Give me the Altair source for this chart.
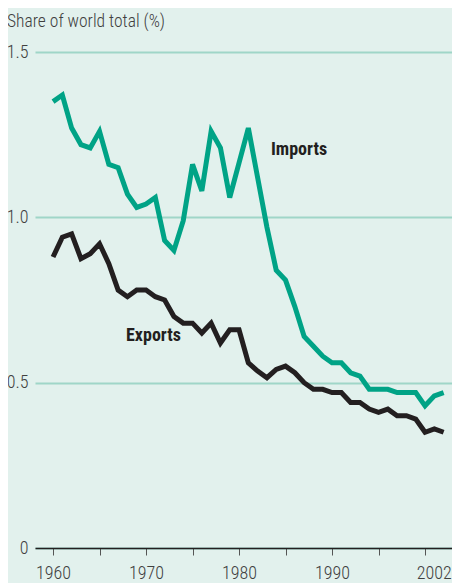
import altair as alt
import pandas as pd

years = list(range(1960, 2003))
imports = [1.35, 1.37, 1.27, 1.22, 1.21, 1.26, 1.16, 1.15, 1.07, 1.03,
           1.04, 1.06, 0.93, 0.90, 0.99, 1.16, 1.08, 1.26, 1.21, 1.06,
           1.165, 1.27, 1.12, 0.97, 0.84, 0.81, 0.73, 0.64, 0.61, 0.58,
           0.56, 0.56, 0.53, 0.52, 0.48, 0.48, 0.48, 0.47, 0.47, 0.47,
           0.43, 0.46, 0.47]
exports = [0.88, 0.94, 0.95, 0.875, 0.89, 0.92, 0.86, 0.78, 0.76, 0.78,
           0.78, 0.76, 0.75, 0.70, 0.68, 0.68, 0.65, 0.68, 0.62, 0.66,
           0.66, 0.56, 0.535, 0.515, 0.54, 0.55, 0.53, 0.50, 0.48, 0.48,
           0.47, 0.47, 0.44, 0.44, 0.42, 0.41, 0.42, 0.40, 0.40, 0.39,
           0.35, 0.36, 0.35]
series_names = ["Imports", "Exports"]
series_colors = ["#00a386", "#231f20"]
label_years = [1986.45, 1970.8]
label_values = [1.205, 0.642]
x_tick_values = [1960, 1965, 1970, 1975, 1980, 1985, 1990, 1995, 2000, 2002]
x_label_values = [1960, 1970, 1980, 1990, 2002]
y_tick_values = [0, 0.5, 1.0, 1.5]
title_text = "Share of world total (%)"

df = pd.DataFrame({
    "year": years * 2,
    "value": imports + exports,
    "series": [series_names[0]] * len(years) + [series_names[1]] * len(years),
})
labels = pd.DataFrame({"year": label_years, "value": label_values, "series": series_names})

FONT = "Roboto Condensed, Liberation Sans Narrow, Arial Narrow, DejaVu Sans Condensed, sans-serif"
TXT = "#404040"

label_list = ",".join(str(v) for v in x_label_values)
x_axis = alt.Axis(
    values=x_tick_values, format="d", grid=False, title=None,
    domain=True, domainColor="#231f20", domainWidth=1.5,
    ticks=True, tickSize=7, tickColor="#555555", tickWidth=1,
    tickOpacity={"condition": {"test": "datum.value === 2002", "value": 0}, "value": 1},
    labelOffset={"condition": {"test": "datum.value === 2002", "value": -10}, "value": 0},
    labelExpr=f"indexof([{label_list}], datum.value) >= 0 ? datum.label : ''",
    labelFont=FONT, labelFontSize=18, labelFontWeight=300, labelColor=TXT, labelPadding=9,
    labelFlush=False, labelOverlap=False, labelBound=False,
)
y_axis = alt.Axis(
    values=y_tick_values, title=None, domain=False, ticks=False,
    grid=True, gridColor="#9fd6c8", gridWidth=2,
    labelExpr="datum.value == 0 ? '0' : format(datum.value, '.1f')",
    labelFont=FONT, labelFontSize=18, labelFontWeight=300, labelColor=TXT, labelPadding=7,
)

x = alt.X("year:Q", scale=alt.Scale(domain=[1958.06, 2002.9], nice=False, zero=False), axis=x_axis)
y = alt.Y("value:Q", scale=alt.Scale(domain=[0, 1.5], nice=False), axis=y_axis)
color = alt.Color("series:N", scale=alt.Scale(domain=series_names, range=series_colors), legend=None)

lines = alt.Chart(df).mark_line(strokeWidth=5, strokeJoin="miter", clip=False).encode(
    x=x, y=y, color=color, detail="series:N"
)
texts = alt.Chart(labels).mark_text(
    font=FONT, fontSize=18, fontWeight="bold", color="#231f20", align="center", baseline="middle"
).encode(x="year:Q", y="value:Q", text="series:N")

chart = alt.layer(lines, texts).properties(
    width=417, height=496,
    title=alt.TitleParams(title_text, anchor="start", frame="group", font=FONT, fontSize=17.5,
                          fontWeight=300, color=TXT, offset=13, dx=-28),
    autosize=alt.AutoSizeParams(type="none"),
    padding={"left": 27, "top": 44, "right": 0, "bottom": 35},
).configure(background="#e2f1ed").configure_view(stroke=None)

chart.save("out.html", embed_options={"renderer": "svg", "actions": False})
